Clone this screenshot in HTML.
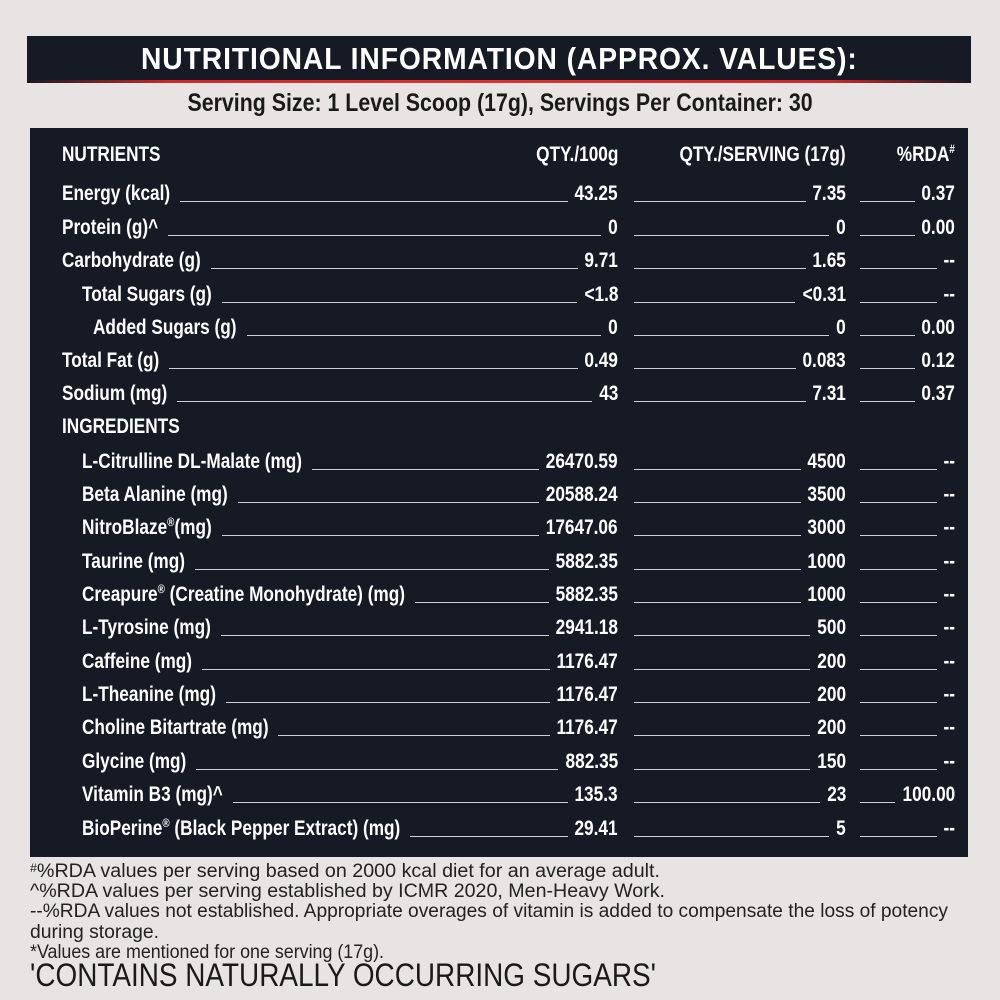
<!DOCTYPE html>
<html><head><meta charset="utf-8"><style>
*{margin:0;padding:0;box-sizing:border-box}
body{width:1000px;height:1000px;background:#e8e4e4;position:relative;overflow:hidden;font-family:"Liberation Sans",sans-serif;}
.title{position:absolute;left:27px;top:36px;width:944px;height:47px;background:#151a24;color:#fff;font-weight:bold;font-size:31px;letter-spacing:1px;text-align:center;line-height:46px;}
.title:after{content:"";position:absolute;left:0;right:0;bottom:0;height:3px;background:linear-gradient(90deg,#151a24,#d02828 15%,#e03030 50%,#d02828 85%,#151a24)}
.fit{display:inline-block;transform-origin:center center;white-space:nowrap}
.serv{position:absolute;left:0;width:1000px;top:89px;text-align:center;font-weight:bold;font-size:25px;color:#1a1a1a}
.panel{position:absolute;left:30px;top:128px;width:938px;height:729px;background:#151a24;}
.row{position:absolute;left:0;width:938px;height:24px;color:#fff;font-weight:bold;font-size:21px;line-height:24px;margin-top:2px}
.c{position:absolute;top:0;height:24px;display:flex;align-items:flex-end}
.c .l{flex:1;border-bottom:1.5px solid #cfd0d4;margin:0 7px 4px 10px;height:1px}
.c1{left:32px;width:556px}.c2{left:604px;width:212px}.c3{left:830px;width:95px}
.c2 .l,.c3 .l{margin-left:0}
.c span{white-space:nowrap;display:inline-block;transform:scaleX(0.82);transform-origin:left bottom}
.c span.r{transform-origin:right bottom}
.foot{position:absolute;left:30px;top:862px;font-size:19px;color:#222;line-height:20.2px}
.foot div{white-space:nowrap;transform-origin:left center}
.big{position:absolute;left:30px;top:957px;font-size:32px;color:#1a1a1a;white-space:nowrap;transform-origin:left center}
sup{font-size:12px;vertical-align:top;line-height:12px}
</style></head><body>
<div class="title"><span class="fit" id="t1">NUTRITIONAL INFORMATION (APPROX. VALUES):</span></div>
<div class="serv"><span class="fit" id="t2">Serving Size: 1 Level Scoop (17g), Servings Per Container: 30</span></div>
<div class="panel">
<div class="row" style="top:13px"><div class="c c1" style="justify-content:space-between"><span>NUTRIENTS</span><span class="r">QTY./100g</span></div><div class="c c2" style="justify-content:flex-end"><span class="r">QTY./SERVING (17g)</span></div><div class="c c3" style="justify-content:flex-end"><span class="r">%RDA<sup>#</sup></span></div></div>

<div class="row" style="top:52px"><div class="c c1"><span>Energy (kcal)</span><i class="l"></i><span class="r">43.25</span></div><div class="c c2"><i class="l"></i><span class="r">7.35</span></div><div class="c c3"><i class="l"></i><span class="r">0.37</span></div></div>
<div class="row" style="top:86px"><div class="c c1"><span>Protein (g)^</span><i class="l"></i><span class="r">0</span></div><div class="c c2"><i class="l"></i><span class="r">0</span></div><div class="c c3"><i class="l"></i><span class="r">0.00</span></div></div>
<div class="row" style="top:119px"><div class="c c1"><span>Carbohydrate (g)</span><i class="l"></i><span class="r">9.71</span></div><div class="c c2"><i class="l"></i><span class="r">1.65</span></div><div class="c c3"><i class="l"></i><span class="r">--</span></div></div>
<div class="row" style="top:153px"><div class="c c1" style="left:52px;width:536px"><span>Total Sugars (g)</span><i class="l"></i><span class="r">&lt;1.8</span></div><div class="c c2"><i class="l"></i><span class="r">&lt;0.31</span></div><div class="c c3"><i class="l"></i><span class="r">--</span></div></div>
<div class="row" style="top:186px"><div class="c c1" style="left:63px;width:525px"><span>Added Sugars (g)</span><i class="l"></i><span class="r">0</span></div><div class="c c2"><i class="l"></i><span class="r">0</span></div><div class="c c3"><i class="l"></i><span class="r">0.00</span></div></div>
<div class="row" style="top:219px"><div class="c c1"><span>Total Fat (g)</span><i class="l"></i><span class="r">0.49</span></div><div class="c c2"><i class="l"></i><span class="r">0.083</span></div><div class="c c3"><i class="l"></i><span class="r">0.12</span></div></div>
<div class="row" style="top:252px"><div class="c c1"><span>Sodium (mg)</span><i class="l"></i><span class="r">43</span></div><div class="c c2"><i class="l"></i><span class="r">7.31</span></div><div class="c c3"><i class="l"></i><span class="r">0.37</span></div></div>
<div class="row" style="top:285px"><div class="c c1"><span>INGREDIENTS</span></div></div>

<div class="row" style="top:320px"><div class="c c1" style="left:52px;width:536px"><span>L-Citrulline DL-Malate (mg)</span><i class="l"></i><span class="r">26470.59</span></div><div class="c c2"><i class="l"></i><span class="r">4500</span></div><div class="c c3"><i class="l"></i><span class="r">--</span></div></div>
<div class="row" style="top:353px"><div class="c c1" style="left:52px;width:536px"><span>Beta Alanine (mg)</span><i class="l"></i><span class="r">20588.24</span></div><div class="c c2"><i class="l"></i><span class="r">3500</span></div><div class="c c3"><i class="l"></i><span class="r">--</span></div></div>
<div class="row" style="top:386px"><div class="c c1" style="left:52px;width:536px"><span>NitroBlaze<sup>®</sup>(mg)</span><i class="l"></i><span class="r">17647.06</span></div><div class="c c2"><i class="l"></i><span class="r">3000</span></div><div class="c c3"><i class="l"></i><span class="r">--</span></div></div>
<div class="row" style="top:420px"><div class="c c1" style="left:52px;width:536px"><span>Taurine (mg)</span><i class="l"></i><span class="r">5882.35</span></div><div class="c c2"><i class="l"></i><span class="r">1000</span></div><div class="c c3"><i class="l"></i><span class="r">--</span></div></div>
<div class="row" style="top:453px"><div class="c c1" style="left:52px;width:536px"><span>Creapure<sup>®</sup> (Creatine Monohydrate) (mg)</span><i class="l"></i><span class="r">5882.35</span></div><div class="c c2"><i class="l"></i><span class="r">1000</span></div><div class="c c3"><i class="l"></i><span class="r">--</span></div></div>
<div class="row" style="top:486px"><div class="c c1" style="left:52px;width:536px"><span>L-Tyrosine (mg)</span><i class="l"></i><span class="r">2941.18</span></div><div class="c c2"><i class="l"></i><span class="r">500</span></div><div class="c c3"><i class="l"></i><span class="r">--</span></div></div>
<div class="row" style="top:520px"><div class="c c1" style="left:52px;width:536px"><span>Caffeine (mg)</span><i class="l"></i><span class="r">1176.47</span></div><div class="c c2"><i class="l"></i><span class="r">200</span></div><div class="c c3"><i class="l"></i><span class="r">--</span></div></div>
<div class="row" style="top:553px"><div class="c c1" style="left:52px;width:536px"><span>L-Theanine (mg)</span><i class="l"></i><span class="r">1176.47</span></div><div class="c c2"><i class="l"></i><span class="r">200</span></div><div class="c c3"><i class="l"></i><span class="r">--</span></div></div>
<div class="row" style="top:586px"><div class="c c1" style="left:52px;width:536px"><span>Choline Bitartrate (mg)</span><i class="l"></i><span class="r">1176.47</span></div><div class="c c2"><i class="l"></i><span class="r">200</span></div><div class="c c3"><i class="l"></i><span class="r">--</span></div></div>
<div class="row" style="top:620px"><div class="c c1" style="left:52px;width:536px"><span>Glycine (mg)</span><i class="l"></i><span class="r">882.35</span></div><div class="c c2"><i class="l"></i><span class="r">150</span></div><div class="c c3"><i class="l"></i><span class="r">--</span></div></div>
<div class="row" style="top:653px"><div class="c c1" style="left:52px;width:536px"><span>Vitamin B3 (mg)^</span><i class="l"></i><span class="r">135.3</span></div><div class="c c2"><i class="l"></i><span class="r">23</span></div><div class="c c3"><i class="l"></i><span class="r">100.00</span></div></div>
<div class="row" style="top:687px"><div class="c c1" style="left:52px;width:536px"><span>BioPerine<sup>®</sup> (Black Pepper Extract) (mg)</span><i class="l"></i><span class="r">29.41</span></div><div class="c c2"><i class="l"></i><span class="r">5</span></div><div class="c c3"><i class="l"></i><span class="r">--</span></div></div>
</div>
<div class="foot">
<div id="f1"><sup>#</sup>%RDA values per serving based on 2000 kcal diet for an average adult.</div>
<div id="f2">^%RDA values per serving established by ICMR 2020, Men-Heavy Work.</div>
<div id="f3">--%RDA values not established. Appropriate overages of vitamin is added to compensate the loss of potency</div>
<div id="f4">during storage.</div>
<div id="f5">*Values are mentioned for one serving (17g).</div>
</div>
<div class="big" id="bg">'CONTAINS NATURALLY OCCURRING SUGARS'</div>
<script>
var S=0.82;
document.querySelectorAll('.c span').forEach(function(s){
  var w=s.offsetWidth, d=-(w*(1-S));
  if(s.classList.contains('r')) s.style.marginLeft=d+'px'; else s.style.marginRight=d+'px';
});
function fit(id,target,inline){
  var e=document.getElementById(id); if(!e) return;
  var w;
  if(inline){w=e.offsetWidth;}else{
    var r=document.createRange(); r.selectNodeContents(e); w=r.getBoundingClientRect().width;}
  e.style.transform='scaleX('+(target/w)+')';
}
fit('t1',717,true);
fit('t2',625,true);
fit('f1',630);
fit('f2',635);
fit('f3',918);
fit('f4',129);
fit('f5',354);
fit('bg',626);
</script>
</body></html>
